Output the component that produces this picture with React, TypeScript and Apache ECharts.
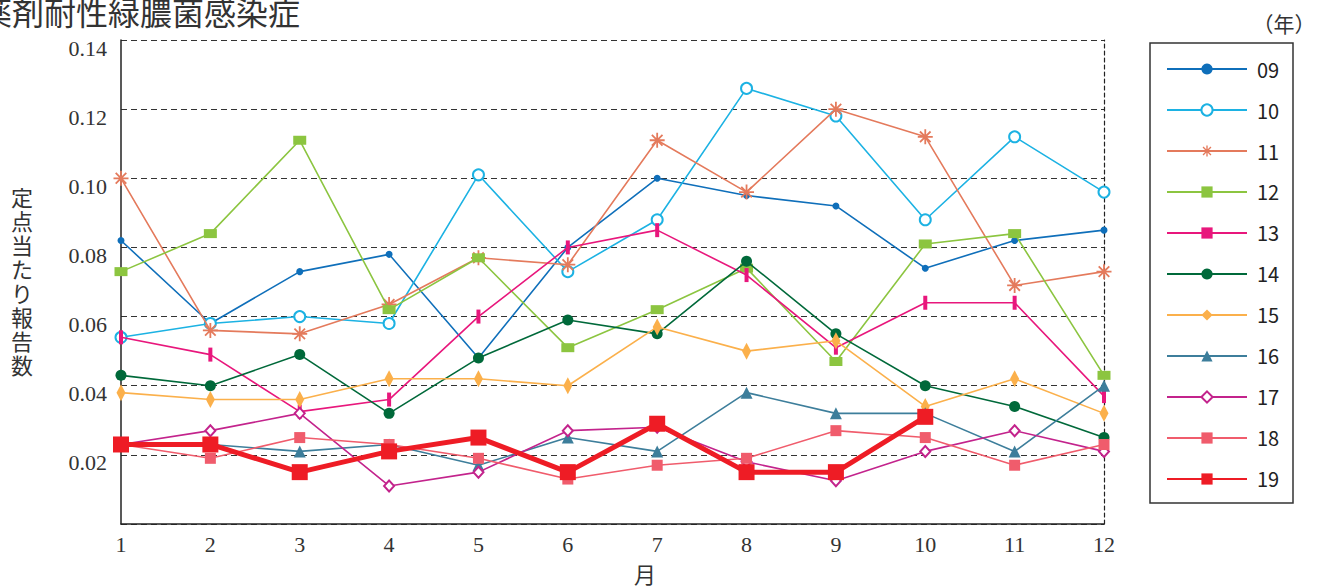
import React, { useEffect, useRef } from "react";
import * as echarts from "echarts";

const months = ["1", "2", "3", "4", "5", "6", "7", "8", "9", "10", "11", "12"];
const yearNames = ["09", "10", "11", "12", "13", "14", "15", "16", "17", "18", "19"];
const yAxisNameChars = ["定", "点", "当", "た", "り", "報", "告", "数"];

const s09 = [0.082, 0.058, 0.073, 0.078, 0.048, 0.080, 0.100, 0.095, 0.092, 0.074, 0.082, 0.085];
const s10 = [0.054, 0.058, 0.060, 0.058, 0.101, 0.073, 0.088, 0.126, 0.118, 0.088, 0.112, 0.096];
const s11 = [0.100, 0.056, 0.055, 0.0635, 0.077, 0.075, 0.111, 0.096, 0.120, 0.112, 0.069, 0.073];
const s12 = [0.073, 0.084, 0.111, 0.062, 0.077, 0.051, 0.062, 0.074, 0.047, 0.081, 0.084, 0.043];
const s13 = [0.054, 0.049, 0.0325, 0.036, 0.060, 0.080, 0.085, 0.072, 0.051, 0.064, 0.064, 0.037];
const s14 = [0.043, 0.040, 0.049, 0.032, 0.048, 0.059, 0.055, 0.076, 0.055, 0.040, 0.034, 0.025];
const s15 = [0.038, 0.036, 0.036, 0.042, 0.042, 0.040, 0.057, 0.050, 0.053, 0.034, 0.042, 0.032];
const s16 = [0.023, 0.023, 0.021, 0.023, 0.017, 0.025, 0.021, 0.038, 0.032, 0.032, 0.021, 0.040];
const s17 = [0.023, 0.027, 0.032, 0.011, 0.015, 0.027, 0.028, 0.018, 0.0125, 0.021, 0.027, 0.021];
const s18 = [0.023, 0.019, 0.025, 0.023, 0.019, 0.013, 0.017, 0.019, 0.027, 0.025, 0.017, 0.023];
const s19 = [0.023, 0.023, 0.015, 0.021, 0.025, 0.015, 0.029, 0.015, 0.015, 0.031];

const seriesData = [s09, s10, s11, s12, s13, s14, s15, s16, s17, s18, s19];

const ASTERISK =
  "path://M-1,-0.12L1,-0.12L1,0.12L-1,0.12Z" +
  "M0.12,-1L0.12,1L-0.12,1L-0.12,-1Z" +
  "M-0.622,-0.792L0.792,0.622L0.622,0.792L-0.792,-0.622Z" +
  "M-0.792,0.622L0.622,-0.792L0.792,-0.622L-0.622,0.792Z";

const styles = [
  { color: "#0f6fba", symbol: "circle", size: 7, width: 1.6 },
  { color: "#1cb2e3", symbol: "emptyCircle", size: 11, width: 1.6, border: 2.5 },
  { color: "#e47a5c", symbol: ASTERISK, size: 15, width: 1.6 },
  { color: "#8cc540", symbol: "rect", size: [13, 9], width: 1.6 },
  { color: "#e8177c", symbol: "rect", size: [4, 14], width: 1.6 },
  { color: "#00693a", symbol: "circle", size: 11, width: 1.6 },
  { color: "#fbb04b", symbol: "diamond", size: [9, 17], width: 1.6 },
  { color: "#3d7e9b", symbol: "triangle", size: 12, width: 1.6 },
  { color: "#c3238c", symbol: "emptyDiamond", size: [10, 11], width: 1.6, border: 1.5 },
  { color: "#f05c6c", symbol: "rect", size: 11, width: 1.6 },
  { color: "#ee1c25", symbol: "rect", size: 16, width: 5 },
];

const SERIF = "'Liberation Serif', 'DejaVu Serif', serif";
const SANS = "'Noto Sans CJK JP', 'Noto Sans', sans-serif";

export default function App() {
  const ref = useRef<HTMLDivElement>(null);
  useEffect(() => {
    if (!ref.current) return;
    const chart = echarts.init(ref.current, undefined, { renderer: "svg" });
    const series = yearNames.map((name, i) => {
      const st: any = styles[i];
      return {
        name,
        type: "line",
        data: seriesData[i],
        symbol: st.symbol,
        symbolSize: st.size,
        showAllSymbol: true,
        lineStyle: { color: st.color, width: st.width },
        itemStyle: {
          color: st.color,
          borderColor: st.color,
          borderWidth: st.border ?? 0,
        },
        emphasis: { disabled: true },
        z: 2 + i,
      };
    });
    const nameTexts = yAxisNameChars.map((ch, i) => ({
      type: "text",
      x: 22,
      y: 280 + (i - 3.5) * 24,
      style: {
        text: ch,
        fontSize: 22,
        fontFamily: SANS,
        fill: "#333",
        align: "center",
        verticalAlign: "middle",
      },
    }));
    chart.setOption({
      animation: false,
      grid: { left: 121, right: 215, top: 40, bottom: 64 },
      legend: {
        orient: "vertical",
        left: 1166,
        top: 59,
        padding: 0,
        itemWidth: 80,
        itemHeight: 14,
        itemGap: 21,
        data: yearNames,
        textStyle: { fontSize: 20, fontFamily: SANS, color: "#222", padding: [0, 0, 0, 5] },
        selectedMode: false,
      },
      xAxis: {
        type: "category",
        data: months,
        boundaryGap: false,
        axisLine: { lineStyle: { color: "#222", width: 1.5 } },
        axisTick: { show: false },
        axisLabel: { fontFamily: SERIF, fontSize: 22, color: "#333", margin: 9 },
        splitLine: { show: false },
      },
      yAxis: [
        {
          type: "value",
          min: 0,
          max: 0.14,
          interval: 0.02,
          axisLine: { show: true, lineStyle: { color: "#222", width: 1.5 } },
          axisTick: { show: false },
          axisLabel: {
            fontFamily: SERIF,
            fontSize: 22,
            color: "#333",
            margin: 14,
            verticalAlign: "top",
            lineHeight: 16,
            formatter: (v: number) => (v === 0 ? "" : v.toFixed(2)),
          },
          splitLine: { show: true, lineStyle: { color: "#333", width: 1.2, type: [6, 4] } },
        },
        {
          type: "value",
          position: "right",
          min: 0,
          max: 0.14,
          interval: 0.02,
          axisLine: { show: true, lineStyle: { color: "#222", width: 1.2, type: [4, 3] } },
          axisTick: { show: false },
          axisLabel: { show: false },
          splitLine: { show: false },
        },
      ],
      graphic: [
        {
          type: "text",
          x: -20,
          y: 11,
          style: {
            text: "薬剤耐性緑膿菌感染症",
            fontSize: 32,
            fontFamily: SANS,
            fill: "#333",
            verticalAlign: "middle",
          },
        },
        ...nameTexts,
        {
          type: "text",
          x: 645,
          y: 573,
          style: {
            text: "月",
            fontSize: 22,
            fontFamily: SANS,
            fill: "#333",
            align: "center",
            verticalAlign: "middle",
          },
        },
        {
          type: "text",
          x: 1284,
          y: 23,
          style: {
            text: "（年）",
            fontSize: 21,
            fontFamily: SANS,
            fill: "#333",
            align: "center",
            verticalAlign: "middle",
          },
        },
        {
          type: "rect",
          shape: { x: 1150, y: 43, width: 143, height: 460 },
          style: { fill: "none", stroke: "#333", lineWidth: 1.5 },
          z: 0,
        },
      ],
      series,
    });
    return () => chart.dispose();
  }, []);
  return (
    <div
      ref={ref}
      style={{ position: "fixed", left: 0, top: 0, width: 1319, height: 588, background: "#fff" }}
    />
  );
}
